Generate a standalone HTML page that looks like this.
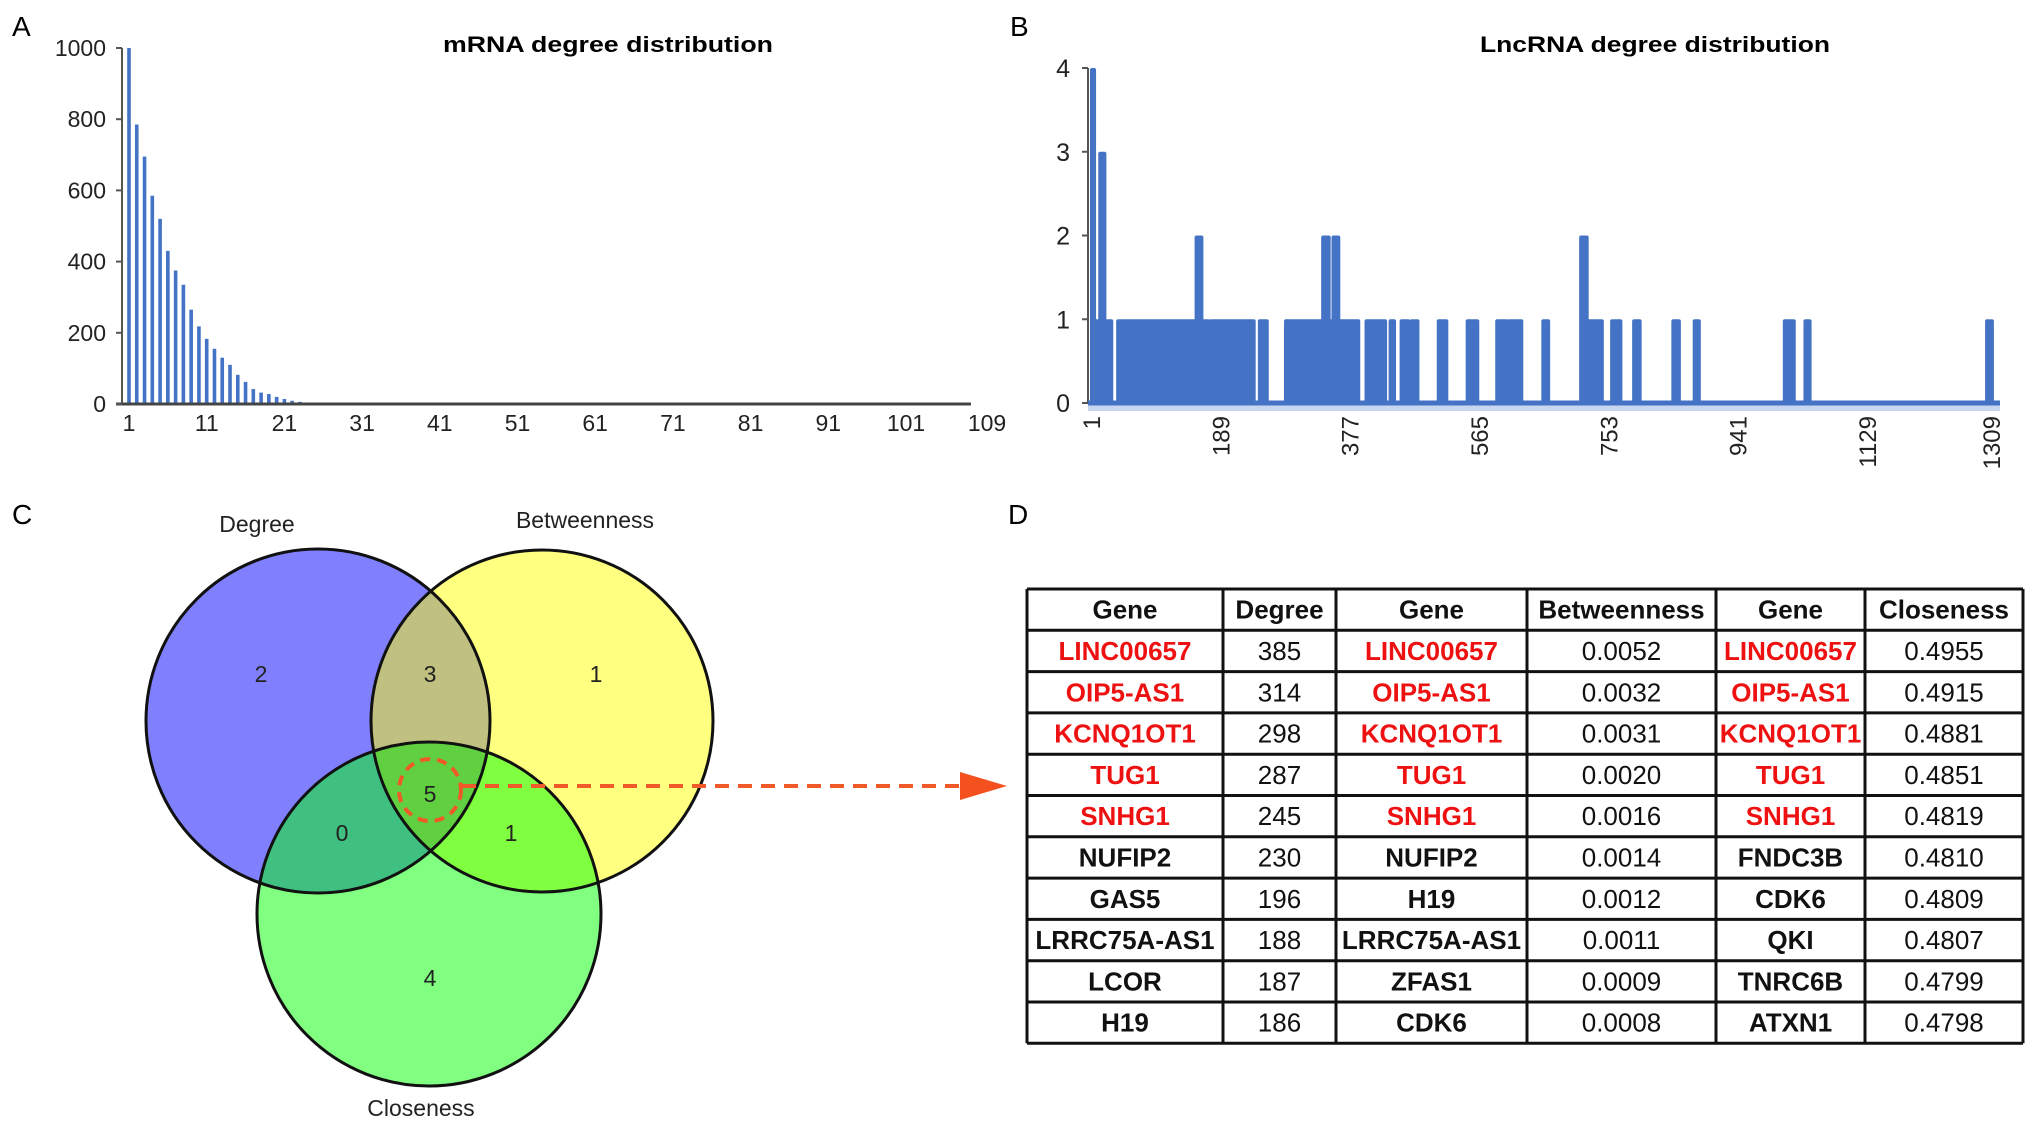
<!DOCTYPE html>
<html><head><meta charset="utf-8"><style>
html,body{margin:0;padding:0;background:#fff;}
svg{display:block;font-family:"Liberation Sans",Arial,sans-serif;}
</style></head><body>
<svg id="fig" width="2031" height="1126" viewBox="0 0 2031 1126" xmlns="http://www.w3.org/2000/svg">
<defs>
<clipPath id="clipD"><circle cx="318" cy="721" r="172"/></clipPath>
<clipPath id="clipB"><circle cx="542" cy="721" r="171"/></clipPath>
<clipPath id="clipC"><circle cx="429" cy="914" r="172"/></clipPath>
</defs>
<text x="12" y="36" font-size="28">A</text>
<text x="1010" y="36" font-size="28">B</text>
<text x="12" y="524" font-size="28">C</text>
<text x="1008" y="524" font-size="28">D</text>

<g id="chartA">
<text x="608" y="52" font-size="22" font-weight="bold" text-anchor="middle" textLength="330" lengthAdjust="spacingAndGlyphs">mRNA degree distribution</text>
</g>
<g id="chartB">
<text x="1655" y="52" font-size="22" font-weight="bold" text-anchor="middle" textLength="350" lengthAdjust="spacingAndGlyphs">LncRNA degree distribution</text>
</g>

<g id="venn">
<circle cx="318" cy="721" r="172" fill="#8080ff"/>
<circle cx="542" cy="721" r="171" fill="#ffff80"/>
<circle cx="429" cy="914" r="172" fill="#80ff80"/>
<circle cx="542" cy="721" r="171" fill="#c0c080" clip-path="url(#clipD)"/>
<circle cx="429" cy="914" r="172" fill="#40c080" clip-path="url(#clipD)"/>
<circle cx="429" cy="914" r="172" fill="#80ff40" clip-path="url(#clipB)"/>
<g clip-path="url(#clipD)"><circle cx="429" cy="914" r="172" fill="#60d040" clip-path="url(#clipB)"/></g>
<circle cx="318" cy="721" r="172" fill="none" stroke="#111" stroke-width="3"/>
<circle cx="542" cy="721" r="171" fill="none" stroke="#111" stroke-width="3"/>
<circle cx="429" cy="914" r="172" fill="none" stroke="#111" stroke-width="3"/>
<g font-size="23" fill="#222" text-anchor="middle">
<text x="257" y="532">Degree</text>
<text x="585" y="528">Betweenness</text>
<text x="421" y="1116">Closeness</text>
<text x="261" y="682">2</text>
<text x="430" y="682">3</text>
<text x="596" y="682">1</text>
<text x="430" y="802">5</text>
<text x="342" y="841">0</text>
<text x="511" y="841">1</text>
<text x="430" y="986">4</text>
</g>
<circle cx="430" cy="790" r="31" fill="none" stroke="#f05a28" stroke-width="4" stroke-dasharray="10,7"/>
<line x1="462" y1="786" x2="962" y2="786" stroke="#f05a28" stroke-width="4" stroke-dasharray="14,9"/>
<polygon points="960,772 1007,786 960,800" fill="#f4511e"/>
</g>

<g id="table"></g>
</svg>
<script>
const NS='http://www.w3.org/2000/svg';
function mk(parent,tag,attrs,text){const e=document.createElementNS(NS,tag);for(const k in attrs)e.setAttribute(k,attrs[k]);if(text!==undefined)e.textContent=text;parent.appendChild(e);return e;}

const mrnaDegrees=[];for(let i=1;i<=109;i++)mrnaDegrees.push(i);
const mrnaCounts=[1000,785,695,585,520,430,375,335,265,218,183,155,130,110,82,62,42,32,28,20,14,9,6,4,3,2,2,1,1,1];
const mrnaYTicks=[0,200,400,600,800,1000];
const mrnaXTicks=[1,11,21,31,41,51,61,71,81,91,101,109];

const gA=document.getElementById('chartA');
const axA={x0:122,x1:971,y0:404,y1:48,first:129,step:7.77};
function xA(d){return axA.first+(d-1)*axA.step;}
function yA(v){return axA.y0-(v/1000)*(axA.y0-axA.y1);}
mrnaCounts.forEach((v,i)=>{
  const d=mrnaDegrees[i];
  const r=mk(gA,'rect',{x:xA(d)-1.8,y:yA(v),width:3.6,height:axA.y0-yA(v),fill:'#4472c4'});
  
  
});
const aAxisY=mk(gA,'line',{x1:axA.x0,y1:axA.y1,x2:axA.x0,y2:axA.y0,stroke:'#555',"stroke-width":2});


const aAxisX=mk(gA,'line',{x1:axA.x0-6,y1:axA.y0,x2:axA.x1,y2:axA.y0,stroke:'#444',"stroke-width":3});


mrnaYTicks.forEach(t=>{
  mk(gA,'line',{x1:axA.x0-6,y1:yA(t),x2:axA.x0,y2:yA(t),stroke:'#555',"stroke-width":2});
  const tx=mk(gA,'text',{x:axA.x0-16,y:yA(t)+8,"font-size":23,"text-anchor":"end",fill:'#222'},String(t));
  
  
});
mrnaXTicks.forEach(t=>{
  const xx=t===109?987:xA(t);
  const tx=mk(gA,'text',{x:xx,y:431,"font-size":23,"text-anchor":"middle",fill:'#222'},String(t));
  
  
});

const lncSegStart=[1,5,13,20,39,71,153,161,174,245,283,337,346,352,360,400,435,451,466,505,547,590,608,616,657,712,721,757,789,846,877,1008,1038,1302,1307];
const lncSegEnd  =[4,12,19,29,69,152,160,170,236,255,335,345,351,359,388,427,440,461,474,516,561,604,614,625,664,720,742,769,797,854,883,1021,1044,1304,1309];
const lncSegValue=[4,1,3,1,1,1,2,1,1,1,1,2,1,2,1,1,1,1,1,1,1,1,1,1,1,2,1,1,1,1,1,1,1,1,1];
const lncYTicks=[0,1,2,3,4];
const lncXTicks=[1,189,377,565,753,941,1129,1309];

const gB=document.getElementById('chartB');
const axB={x0:1088,x1:2000,y0:403,y1:68,first:1092,step:0.688};
function xB(i){return axB.first+(i-1)*axB.step;}
function yB(v){return axB.y0-(v/4)*(axB.y0-axB.y1);}
mk(gB,'rect',{x:axB.x0,y:axB.y0+2,width:axB.x1-axB.x0,height:6,fill:'#c9d6ef'});
lncSegValue.forEach((v,k)=>{
  const s=lncSegStart[k],e=lncSegEnd[k];
  const r=mk(gB,'rect',{x:xB(s)-2,y:yB(v),width:Math.max(4,xB(e)-xB(s)+4),height:axB.y0-yB(v),fill:'#4472c4',rx:2});
  
  
});
const bAxisY=mk(gB,'line',{x1:axB.x0,y1:axB.y1,x2:axB.x0,y2:axB.y0,stroke:'#555',"stroke-width":2});


const bAxisX=mk(gB,'line',{x1:axB.x0,y1:axB.y0,x2:axB.x1,y2:axB.y0,stroke:'#4472c4',"stroke-width":5});


lncYTicks.forEach(t=>{
  mk(gB,'line',{x1:axB.x0-6,y1:yB(t),x2:axB.x0,y2:yB(t),stroke:'#555',"stroke-width":2});
  const tx=mk(gB,'text',{x:axB.x0-18,y:yB(t)+9,"font-size":25,"text-anchor":"end",fill:'#222'},String(t));
  
  
});
lncXTicks.forEach(t=>{
  const xx=xB(t)+8;
  const tx=mk(gB,'text',{x:xx,y:416,"font-size":24,"text-anchor":"end",fill:'#222',transform:'rotate(-90 '+xx+' 416)'},String(t));
  
  
});

const headers=['Gene','Degree','Gene','Betweenness','Gene','Closeness'];
const degGenes=['LINC00657','OIP5-AS1','KCNQ1OT1','TUG1','SNHG1','NUFIP2','GAS5','LRRC75A-AS1','LCOR','H19'];
const degVals=['385','314','298','287','245','230','196','188','187','186'];
const betGenes=['LINC00657','OIP5-AS1','KCNQ1OT1','TUG1','SNHG1','NUFIP2','H19','LRRC75A-AS1','ZFAS1','CDK6'];
const betVals=['0.0052','0.0032','0.0031','0.0020','0.0016','0.0014','0.0012','0.0011','0.0009','0.0008'];
const cloGenes=['LINC00657','OIP5-AS1','KCNQ1OT1','TUG1','SNHG1','FNDC3B','CDK6','QKI','TNRC6B','ATXN1'];
const cloVals=['0.4955','0.4915','0.4881','0.4851','0.4819','0.4810','0.4809','0.4807','0.4799','0.4798'];
const gT=document.getElementById('table');
const colX=[1027,1223,1336,1527,1716,1865,2023];
const rowY0=589,rowH=41.3;
const cols=[degGenes,degVals,betGenes,betVals,cloGenes,cloVals];
for(let r=0;r<=11;r++){
  const y=rowY0+r*rowH;
  mk(gT,'line',{x1:colX[0],y1:y,x2:colX[6],y2:y,stroke:'#111',"stroke-width":3});
}
colX.forEach(x=>mk(gT,'line',{x1:x,y1:rowY0,x2:x,y2:rowY0+11*rowH,stroke:'#111',"stroke-width":3}));
headers.forEach((h,c)=>{
  const cx=(colX[c]+colX[c+1])/2;
  const w=colX[c+1]-colX[c]-8;
  const a={x:cx,y:rowY0+rowH/2+9,"font-size":26,"font-weight":"bold","text-anchor":"middle",fill:'#111'};
  if(h.length*14>w){a.textLength=w;a.lengthAdjust='spacingAndGlyphs';}
  const t=mk(gT,'text',a,h);
  
  
});
cols.forEach((arr,c)=>{
  const isGene=c%2===0;
  arr.forEach((v,r)=>{
    const cx=(colX[c]+colX[c+1])/2;
    const w=colX[c+1]-colX[c]-6;
    const a={x:cx,y:rowY0+(r+1)*rowH+rowH/2+9,"font-size":26,"text-anchor":"middle",fill:(isGene&&r<5)?'#ee1111':'#111'};
    if(isGene){a['font-weight']='bold';}
    if(isGene&&v.length*14.5>w){a.textLength=w;a.lengthAdjust='spacingAndGlyphs';}
    const t=mk(gT,'text',a,v);
    
    
  });
});
</script>
</body></html>
